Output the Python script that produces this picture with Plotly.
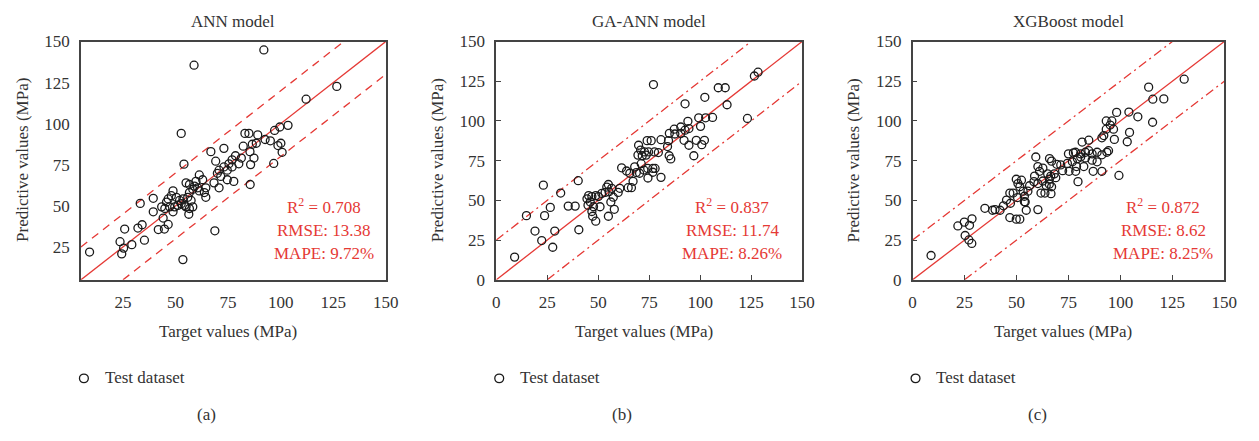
import plotly.graph_objects as go

# ---------------- data ----------------
ann_target = [92.0, 58.8, 126.7, 112.1, 103.5, 99.6, 97.1, 95.1, 100.1, 98.7, 100.7, 96.7, 33.2, 25.8,
              35.2, 29.2, 23.6, 25.3, 24.4, 9.1, 68.7, 53.5, 32.1, 34.1, 44.7, 41.8,
              76.9, 78.5, 80.1, 75.4, 73.0, 76.9, 74.6, 70.7, 69.9, 71.5, 74.6, 77.7, 70.7, 68.3,
              64.4, 64.4, 61.3, 62.9, 59.7, 59.0, 60.5, 56.6, 55.0, 58.2, 61.3, 63.7, 56.6, 55.8,
              57.4, 53.5, 51.9, 50.4, 48.8, 48.0, 46.5, 45.7, 47.2, 49.6, 51.1, 52.7, 54.3, 55.0,
              56.6, 58.2, 44.9, 43.4, 39.4, 39.4, 44.1, 46.5, 48.8, 56.3, 85.5, 83.0, 84.9, 89.1,
              82.2, 85.4, 87.3, 85.7, 52.7, 54.0, 66.8, 73.0, 69.1, 88.4, 86.5, 92.6, 81.3]
ann_pred = [144.9, 135.6, 122.7, 114.9, 99.0, 98.0, 95.9, 89.6, 88.1, 86.7, 82.6, 75.8, 51.5, 35.9,
            29.1, 26.4, 28.2, 24.3, 20.8, 21.9, 34.8, 17.3, 36.5, 38.5, 35.9, 35.6,
            78.0, 80.5, 75.6, 75.6, 73.7, 73.7, 71.7, 71.7, 69.8, 67.9, 65.9, 64.9, 61.0, 64.0,
            61.0, 55.2, 68.8, 65.9, 64.9, 62.0, 61.0, 63.0, 64.0, 60.1, 59.1, 58.1, 58.1, 55.2,
            53.3, 54.2, 53.3, 55.2, 59.1, 56.2, 54.2, 52.3, 49.4, 49.4, 50.3, 51.3, 50.3, 49.4,
            48.4, 49.4, 48.4, 49.4, 54.6, 46.4, 42.6, 38.7, 46.4, 44.9, 63.0, 94.1, 94.1, 93.2,
            86.3, 83.0, 79.1, 75.1, 94.1, 75.4, 83.0, 85.0, 77.2, 88.1, 87.5, 90.4, 79.1]

gaann_target = [9.0, 14.8, 19.0, 22.3, 23.1, 23.7, 26.5, 27.7, 28.7, 31.6, 35.3, 38.7, 40.5, 77.1,
                92.6, 102.3, 108.9, 112.3, 113.2, 123.2, 126.6, 128.4, 98.1, 102.1, 100.8,
                99.3, 102.7, 106.1, 100.2,
                40.2, 94.0, 87.3, 90.5, 92.6, 94.5, 84.9, 87.6, 90.5, 80.8, 76.0, 74.0, 84.5,
                92.1, 94.5, 84.0, 69.8, 70.8, 72.7, 69.5, 71.6, 73.5, 74.7, 77.6, 79.5, 84.8, 85.6,
                96.9, 61.5, 63.9, 65.5, 67.9, 68.7, 70.3, 71.1, 72.4, 74.3, 76.8, 77.9, 76.8, 74.4,
                80.8, 67.1, 64.7, 66.3, 59.8, 60.6, 55.0, 54.2, 53.4, 56.6, 55.3, 57.4, 56.2, 51.8,
                50.1, 48.8, 46.9, 45.3, 44.5, 46.1, 45.0, 47.7, 46.9, 47.3, 48.8, 50.9, 55.0, 57.9]
gaann_pred = [14.3, 40.4, 30.7, 24.7, 59.6, 40.4, 45.6, 20.5, 30.7, 54.6, 46.4, 46.4, 31.5, 122.9,
              110.8, 114.9, 120.9, 120.9, 110.2, 101.6, 128.3, 130.7, 87.8, 87.8, 85.1,
              102.0, 102.0, 102.2, 96.6,
              62.4, 99.8, 94.8, 96.2, 94.2, 95.2, 92.2, 91.8, 92.2, 88.2, 87.6, 87.6, 87.6,
              87.8, 84.7, 83.9, 84.7, 81.7, 80.5, 78.5, 78.1, 78.5, 80.5, 80.5, 80.1, 78.1, 76.1,
              78.1, 70.5, 68.5, 67.1, 71.1, 67.5, 67.1, 73.1, 69.1, 70.1, 70.1, 70.1, 67.7, 64.1,
              64.5, 62.0, 58.0, 58.0, 55.0, 57.6, 60.0, 58.4, 55.0, 57.6, 55.4, 52.0, 49.0, 54.4,
              52.4, 53.0, 52.4, 53.0, 51.0, 49.0, 47.0, 46.0, 43.0, 40.0, 36.9, 46.0, 40.0, 44.4]

xgb_target = [8.9, 21.8, 24.9, 27.4, 28.6, 25.3, 27.1, 28.5, 34.8, 113.6, 130.7, 115.6, 120.9, 115.5,
              108.4, 104.1, 98.2, 104.4, 103.3, 99.3,
              93.2, 95.9, 95.1, 96.7, 93.2, 92.0, 91.1, 97.1, 84.8, 81.6, 77.4, 78.4, 80.9, 83.2,
              84.8, 86.4, 88.8, 91.1, 93.5, 94.3, 75.0, 79.3, 80.9, 83.2, 76.9, 74.5, 78.9, 82.4,
              75.3, 78.5, 86.9, 91.1, 71.3, 69.4, 72.2, 79.6, 86.4, 88.8, 66.9, 65.9, 59.3, 60.3,
              62.7, 61.1, 65.0, 66.5, 68.2, 68.9, 58.7, 58.4, 60.3, 62.7, 65.8, 65.8, 64.3, 66.9,
              56.3, 55.5, 53.2, 51.6, 52.4, 49.9, 50.7, 48.4, 46.8, 53.8, 54.2, 53.8, 50.5, 47.1,
              43.7, 42.1, 45.2, 61.8, 54.7, 60.3, 63.7, 46.8, 51.6, 49.9, 39.7, 38.5, 66.6]
xgb_pred = [15.3, 33.9, 36.3, 34.3, 38.4, 27.9, 25.1, 22.9, 45.0, 121.3, 126.3, 113.7, 113.9, 99.2,
            102.6, 105.6, 105.4, 92.8, 86.9, 65.7,
            100.0, 100.0, 97.4, 94.8, 94.8, 90.8, 89.4, 88.4, 87.9, 86.7, 79.9, 80.3, 79.3, 80.3,
            81.3, 79.3, 80.3, 78.7, 80.3, 81.3, 79.3, 76.3, 77.3, 76.7, 74.3, 73.3, 71.3, 71.3,
            68.3, 68.3, 68.3, 68.3, 72.3, 72.7, 68.7, 61.8, 75.3, 74.3, 74.7, 76.3, 77.3, 71.3,
            70.3, 68.3, 66.7, 65.3, 66.7, 64.3, 65.3, 61.8, 60.6, 62.2, 63.3, 60.2, 59.2, 58.6,
            59.2, 55.8, 55.8, 58.6, 62.7, 63.3, 60.6, 54.6, 54.6, 52.6, 49.0, 49.2, 51.8, 48.2,
            46.6, 43.8, 50.2, 54.6, 43.8, 44.2, 54.6, 39.2, 38.2, 38.2, 44.2, 43.8, 54.2]

model_titles = ["ANN model", "GA-ANN model", "XGBoost model"]
panel_labels = ["(a)", "(b)", "(c)"]
legend_label = "Test dataset"
metric_r2 = ["0.708", "0.837", "0.872"]
metric_rmse = ["13.38", "11.74", "8.62"]
metric_mape = ["9.72%", "8.26%", "8.25%"]
axis_min = [5, 0, 0]
axis_max = [150, 150, 150]
band_offset = [20, 25, 25]
tick_values = [[25, 50, 75, 100, 125, 150], [0, 25, 50, 75, 100, 125, 150], [0, 25, 50, 75, 100, 125, 150]]

targets = [ann_target, gaann_target, xgb_target]
preds = [ann_pred, gaann_pred, xgb_pred]

# ---------------- layout constants ----------------
W, H = 1259, 441
FONT = "Liberation Serif"
RED = "#e53935"
TXT = "#333333"
FRAME = "#444444"
px_left = [78, 499, 921]
px_right = [387, 809, 1237]
px_top, px_bottom = 34, 283
metric_dx = [-63, -71, -62]


def px(x):
    return x / W


def py(y):
    return 1 - y / H


fig = go.Figure()
band_dash = ["8px,6px", "9px,4px,2px,4px", "9px,4px,2px,4px"]

for i in range(3):
    xa = "x" if i == 0 else f"x{i+1}"
    ya = "y" if i == 0 else f"y{i+1}"
    lo, hi, off = axis_min[i], axis_max[i], band_offset[i]
    # identity line
    fig.add_trace(go.Scatter(x=[lo, hi], y=[lo, hi], mode="lines", xaxis=xa, yaxis=ya,
                             line=dict(color=RED, width=1.3), showlegend=False, hoverinfo="skip"))
    # upper / lower bounds
    fig.add_trace(go.Scatter(x=[lo, hi - off], y=[lo + off, hi], mode="lines", xaxis=xa, yaxis=ya,
                             line=dict(color=RED, width=1.3, dash=band_dash[i]), showlegend=False,
                             hoverinfo="skip"))
    fig.add_trace(go.Scatter(x=[lo + off, hi], y=[lo, hi - off], mode="lines", xaxis=xa, yaxis=ya,
                             line=dict(color=RED, width=1.3, dash=band_dash[i]), showlegend=False,
                             hoverinfo="skip"))
    # data
    fig.add_trace(go.Scatter(x=targets[i], y=preds[i], mode="markers", xaxis=xa, yaxis=ya,
                             name=legend_label, showlegend=False,
                             marker=dict(symbol="circle-open", size=8, color="#1a1a1a",
                                         line=dict(width=1.3, color="#1a1a1a"))))

    has_ticks = i > 0
    axis_common = dict(showline=True, mirror=True, linecolor=FRAME, linewidth=1.5,
                       showgrid=False, zeroline=False,
                       ticks="inside" if has_ticks else "", ticklen=5, tickwidth=1.2,
                       tickcolor=FRAME, tickfont=dict(family=FONT, size=17, color=TXT),
                       range=[lo, hi], tickvals=tick_values[i], ticklabelstandoff=6)
    xkey = "xaxis" if i == 0 else f"xaxis{i+1}"
    ykey = "yaxis" if i == 0 else f"yaxis{i+1}"
    fig.update_layout(**{
        xkey: dict(domain=[px(px_left[i]), px(px_right[i])], anchor=ya, **axis_common),
        ykey: dict(domain=[py(px_bottom), py(px_top)], anchor=xa, **axis_common),
    })

    cx = (px_left[i] + px_right[i]) / 2
    mx = px_right[i] + metric_dx[i]
    ann = [
        (cx, 13, model_titles[i], TXT, 0, "center"),
        (cx - 5, 337, "Target values (MPa)", TXT, 0, "center"),
        (px_left[i] - 60, 158, "Predictive values (MPa)", TXT, -90, "center"),
        (px_left[i] + 127, 424, panel_labels[i], TXT, 0, "center"),
        (mx, 206, f"R<sup>2</sup> = {metric_r2[i]}", RED, 0, "center"),
        (mx, 231, f"RMSE: {metric_rmse[i]}", RED, 0, "center"),
        (mx, 256, f"MAPE: {metric_mape[i]}", RED, 0, "center"),
        (px_left[i] + 22, 385, legend_label, TXT, 0, "left"),
    ]
    for (x, y, t, c, a, xa_) in ann:
        fig.add_annotation(x=px(x), y=py(y), xref="paper", yref="paper", text=t, showarrow=False,
                           textangle=a, xanchor=xa_, yanchor="middle",
                           font=dict(family=FONT, size=17, color=c))

    # legend symbol (open circle)
    sx = px_left[i] + 3
    fig.add_shape(type="circle", xref="paper", yref="paper",
                  x0=px(sx - 4.5), x1=px(sx + 4.5), y0=py(386 + 4.5), y1=py(386 - 4.5),
                  line=dict(color="#1a1a1a", width=1.3), fillcolor="rgba(0,0,0,0)")

fig.update_layout(width=W, height=H, margin=dict(l=0, r=0, t=0, b=0),
                  paper_bgcolor="white", plot_bgcolor="white", showlegend=False)

fig.write_html("out.html")
